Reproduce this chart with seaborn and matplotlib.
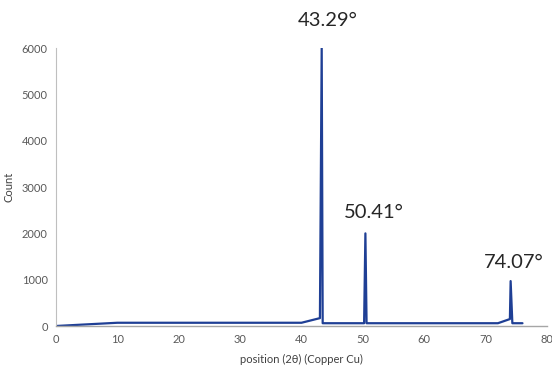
import matplotlib
matplotlib.use("Agg")
import matplotlib.pyplot as plt
import seaborn as sns
import pandas as pd

# Data
two_theta = [0, 5, 10, 40, 43.0, 43.29, 43.45, 50.2, 50.41, 50.6, 72.0, 73.95, 74.07, 74.35, 76.0]
counts = [0, 35, 70, 70, 170, 6000, 60, 60, 2000, 60, 60, 150, 970, 60, 60]
peak_labels = ["43.29°", "50.41°", "74.07°"]
label_x = [44.2, 51.8, 74.6]
label_y = [6475, 2331, 1252]
x_ticks = [0, 10, 20, 30, 40, 50, 60, 70, 80]
y_ticks = [0, 1000, 2000, 3000, 4000, 5000, 6000]

sns.set_theme(style="white")
plt.rcParams['font.family'] = ['Lato', 'DejaVu Sans']

df = pd.DataFrame({"x": two_theta, "y": counts})

fig = plt.figure(figsize=(5.52, 3.73), dpi=100)
ax = fig.add_axes([0.1014, 0.126, 0.8896, 0.745])
sns.lineplot(data=df, x="x", y="y", sort=False, ax=ax, color="#1f3f95", linewidth=1.6)

ax.set_xlim(0, 80)
ax.set_ylim(0, 6000)
ax.set_xticks(x_ticks)
ax.set_yticks(y_ticks)
ax.tick_params(axis="both", length=0, labelsize=8, colors="#595959", pad=6)
for s in ["top", "right"]:
    ax.spines[s].set_visible(False)
ax.spines["left"].set_color("#bfbfbf")
ax.spines["bottom"].set_color("#a6a6a6")
ax.spines["left"].set_linewidth(0.8)
ax.spines["bottom"].set_linewidth(1.0)

ax.set_xlabel("position (2θ) (Copper Cu)", fontsize=8, color="#404040", labelpad=6)
ax.set_ylabel("Count", fontsize=8, color="#404040", labelpad=5)

for lab, px, py in zip(peak_labels, label_x, label_y):
    ax.text(px, py, lab, ha="center", va="baseline",
            fontsize=14.5, color="#262626", clip_on=False)

fig.savefig("out.png", dpi=100)
